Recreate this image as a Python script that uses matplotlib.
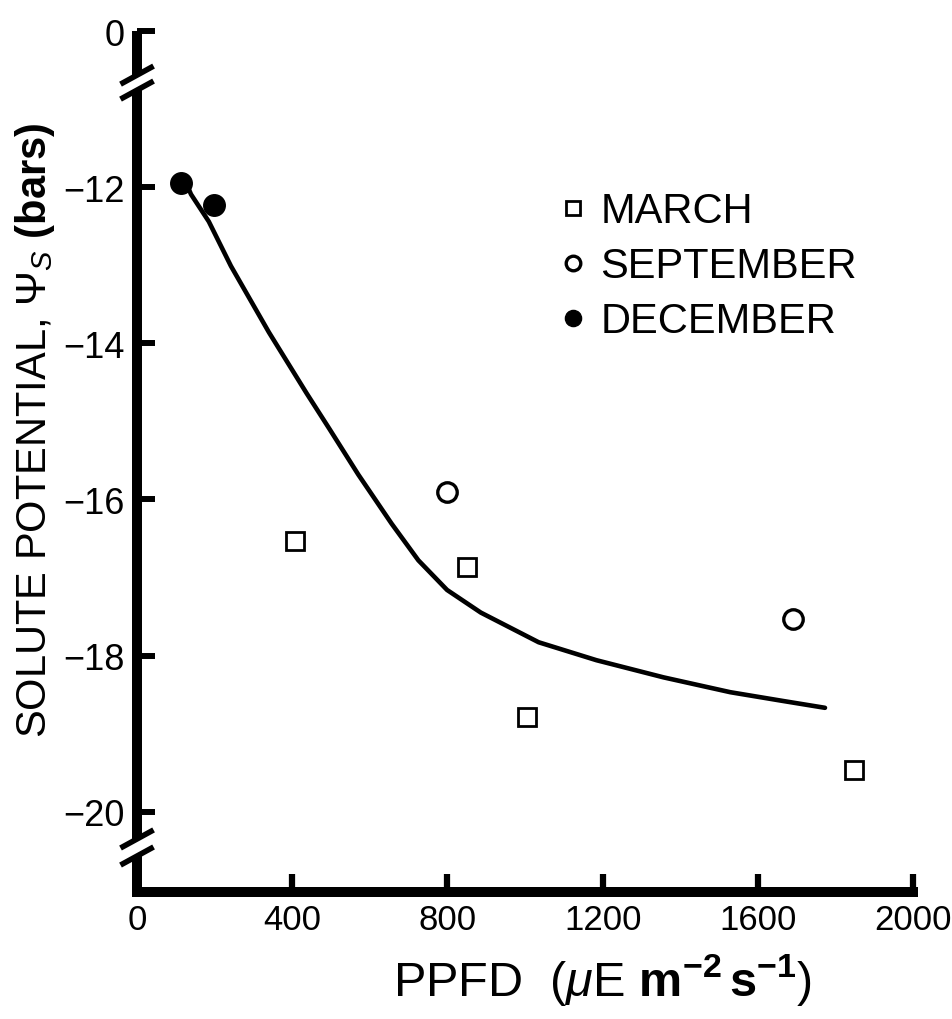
#solute potential vs light (PPFD) for three sampling months
#y axis is broken twice, so it uses a piecewise scale to squeeze the 0 end in

import numpy as np
import matplotlib
matplotlib.use("Agg")
from matplotlib import pyplot as plt

plt.rcParams['font.family'] = ['Liberation Sans', 'DejaVu Sans']
plt.rcParams['mathtext.fontset'] = 'custom'
plt.rcParams['mathtext.rm'] = 'Liberation Sans'
plt.rcParams['mathtext.it'] = 'Liberation Sans:italic'
plt.rcParams['mathtext.bf'] = 'Liberation Sans:bold'

#data (PPFD in uE m-2 s-1, potential in bars)
march_x = [407, 851, 1005, 1848]
march_y = [-16.53, -16.86, -18.79, -19.47]
sept_x = [799, 1691]
sept_y = [-15.90, -17.53]
dec_x = [113, 198]
dec_y = [-11.95, -12.23]

#hand fitted curve
curve_x = [133, 139, 185, 242, 340, 437, 495, 570, 656, 725, 799, 886, 1035,
           1184, 1357, 1529, 1662, 1773]
curve_y = [-12.02, -12.09, -12.44, -13.01, -13.86, -14.64, -15.09, -15.68, -16.31,
           -16.78, -17.16, -17.45, -17.83, -18.06, -18.28, -18.47, -18.58, -18.67]

xticks = [0, 400, 800, 1200, 1600, 2000]
yticks = [-20, -18, -16, -14, -12, 0]

#everything above -11 bars gets squashed so 0 sits just above the break
def fwd(v):
    v = np.asarray(v, dtype=float)
    return np.where(v > -11, -11 + (v + 11) / 11.0, v)

def inv(u):
    u = np.asarray(u, dtype=float)
    return np.where(u > -11, -11 + (u + 11) * 11.0, u)

fig = plt.figure(figsize=(9.53, 10.2), dpi=100)
ax = fig.add_axes([0.1438, 0.1245, 0.8143, 0.844])
ax.set_yscale('function', functions=(fwd, inv))

ax.plot(curve_x, curve_y, color='black', lw=3.3, solid_capstyle='round',
        solid_joinstyle='round', zorder=2)
ax.plot(march_x, march_y, ls='none', marker='s', ms=12.5, mfc='white', mec='black',
        mew=2.0, label='MARCH', zorder=3)
ax.plot(sept_x, sept_y, ls='none', marker='o', ms=14, mfc='white', mec='black',
        mew=2.4, label='SEPTEMBER', zorder=3)
ax.plot(dec_x, dec_y, ls='none', marker='o', ms=15.5, mfc='black', mec='black',
        label='DECEMBER', zorder=3)

ax.set_xlim(0, 2000)
ax.set_ylim(-21.03, 0)
ax.set_xticks(xticks)
ax.set_yticks(yticks)
ax.set_yticklabels(['\u2212' + str(abs(t)) if t else '0' for t in yticks])

for s in ['top', 'right', 'left']:
    ax.spines[s].set_visible(False)
ax.spines['bottom'].set_linewidth(7.2)

ax.tick_params(axis='y', direction='in', length=13, width=4.3, pad=9, labelsize=26)
ax.tick_params(axis='x', direction='in', length=13, width=4.5, pad=8, labelsize=25)

#left axis drawn by hand in three pieces with the // breaks
lw_axis = 7.2
segs = [(1.0, 0.9489), (0.9315, 0.0616), (0.0418, 0.0)]
for top, bot in segs:
    ax.plot([0, 0], [top, bot], transform=ax.transAxes, color='black', lw=lw_axis,
            solid_capstyle='butt', clip_on=False, zorder=4)
dx, dy = 0.0213, 0.0105
for yc in [0.9489, 0.9315, 0.0616, 0.0418]:
    ax.plot([-dx, dx], [yc - dy, yc + dy], transform=ax.transAxes, color='black',
            lw=4, solid_capstyle='butt', clip_on=False, zorder=5)

ax.set_ylabel(r'SOLUTE POTENTIAL, $\Psi_S$ $\mathbf{(bars)}$', fontsize=30)
ax.yaxis.set_label_coords(-0.103, 0.537)
ax.set_xlabel(r'PPFD  ($\mu$E $\mathbf{m^{-2}\,s^{-1}}$)', fontsize=35)
ax.xaxis.set_label_coords(0.599, -0.068)

ax.legend(loc='upper left', bbox_to_anchor=(0.546, 0.814), frameon=False,
          fontsize=30, handlelength=0.6, handletextpad=0.35, borderpad=0,
          borderaxespad=0, labelspacing=0.36, markerscale=0.75)

plt.savefig('out.png', dpi=100)
